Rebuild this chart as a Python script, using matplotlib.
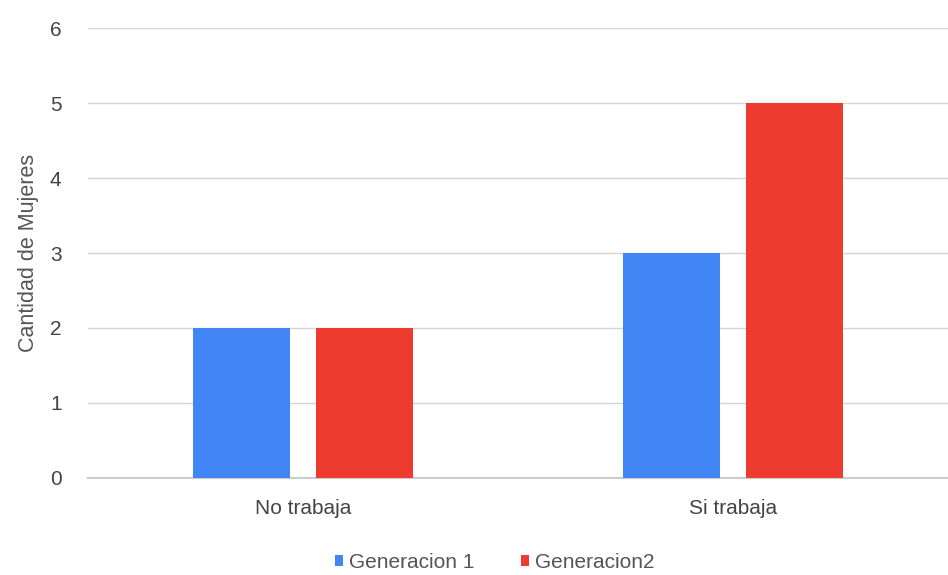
import numpy as np
import matplotlib.pyplot as plt

plt.rcParams['font.family'] = ['Liberation Sans', 'DejaVu Sans']

categorias = ["No trabaja", "Si trabaja"]
generacion1 = [2, 3]
generacion2 = [2, 5]
series = ["Generacion 1", "Generacion2"]

azul = "#4285F4"
rojo = "#EE3B2F"

fig = plt.figure(figsize=(9.48, 5.75), dpi=100)
ax = fig.add_axes([0.0928, 0.1687, 0.9072, 0.7826])

x = np.arange(len(categorias))
ancho = 0.225
ax.bar(x - 0.143, generacion1, ancho, color=azul, label=series[0], zorder=3)
ax.bar(x + 0.143, generacion2, ancho, color=rojo, label=series[1], zorder=3)

ax.set_xlim(-0.5, 1.5)
ax.set_ylim(0, 6)
ax.set_yticks(range(7))
ax.set_xticks(x)
ax.set_xticklabels(categorias)
ax.grid(axis="y", color="#d4d4d4", linewidth=1, zorder=0)
ax.axhline(0, color="#cccccc", linewidth=1.5, zorder=1, clip_on=False)
for lado in ax.spines.values():
    lado.set_visible(False)
ax.tick_params(axis="both", length=0, labelsize=15, labelcolor="#444444")
ax.tick_params(axis="y", pad=19)
ax.tick_params(axis="x", pad=15)
ax.set_ylabel("Cantidad de Mujeres", fontsize=15.5, color="#555555", labelpad=8)

ax.legend(loc="upper center", bbox_to_anchor=(0.473, -0.125), ncol=2, frameon=False,
          fontsize=15, labelcolor="#555555", handlelength=0.4, handleheight=0.4,
          handletextpad=0.3, columnspacing=2.2)

fig.savefig("out.png", dpi=100)
